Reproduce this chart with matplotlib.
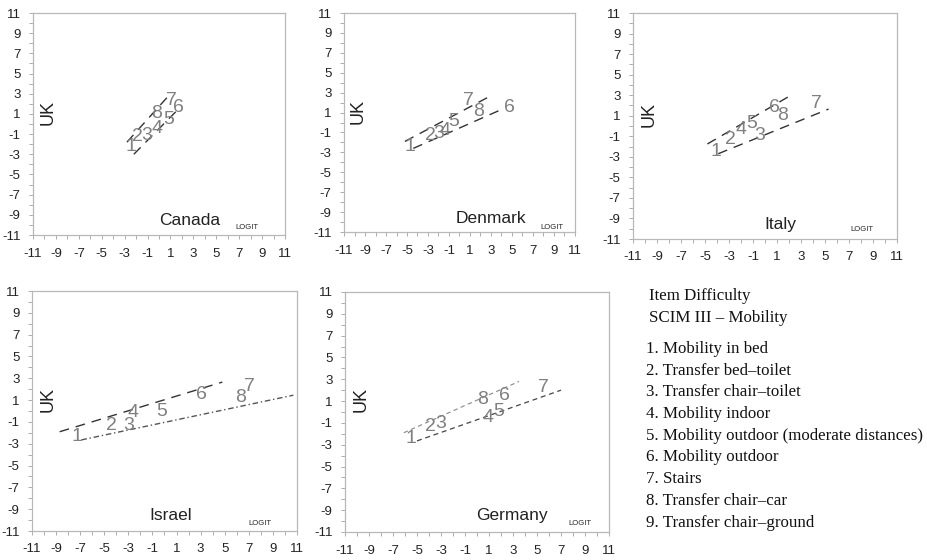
import matplotlib.pyplot as plt
import numpy as np

plt.rcParams['font.family'] = ['Liberation Sans', 'DejaVu Sans']
plt.rcParams['axes.unicode_minus'] = False

# item numbers and positions (x = country logit, y = UK logit)
canada_items = ['1', '2', '3', '4', '5', '6', '7', '8']
canada_x = [-2.46, -1.87, -1.09, -0.21, 0.81, 1.68, 1.10, -0.21]
canada_y = [-2.27, -1.28, -1.11, -0.45, 0.44, 1.63, 2.35, 1.03]
canada_upper = ([-2.8, 1.0], [-1.8, 3.0])
canada_lower = ([-2.2, 1.8], [-3.0, 1.6])

denmark_items = ['1', '2', '3', '4', '5', '7', '8', '6']
denmark_x = [-4.74, -2.76, -2.03, -1.40, -0.60, 0.83, 1.78, 4.71]
denmark_y = [-2.42, -1.35, -1.09, -0.85, 0.08, 2.25, 1.08, 1.52]
denmark_upper = ([-5.2, 3.1], [-1.9, 2.75])
denmark_lower = ([-4.4, 4.2], [-2.6, 1.4])

italy_items = ['1', '2', '4', '5', '3', '6', '8', '7']
italy_x = [-4.06, -2.89, -1.97, -1.08, -0.44, 0.78, 1.50, 4.25]
italy_y = [-2.49, -1.35, -0.31, 0.21, -0.96, 1.84, 0.99, 2.23]
italy_upper = ([-4.8, 2.1], [-1.75, 2.95])
italy_lower = ([-3.9, 5.3], [-2.7, 1.65])

israel_items = ['1', '2', '3', '4', '5', '6', '7', '8']
israel_x = [-7.30, -4.37, -2.98, -2.62, -0.25, 3.07, 7.05, 6.30]
israel_y = [-2.37, -1.33, -1.30, -0.17, -0.02, 1.51, 2.27, 1.20]
israel_upper = ([-8.7, 4.8], [-1.9, 2.65])
israel_lower = ([-6.9, 10.7], [-2.65, 1.45])

germany_items = ['1', '2', '3', '8', '6', '4', '5', '7']
germany_x = [-5.52, -3.91, -3.02, 0.49, 2.30, 0.91, 1.80, 5.50]
germany_y = [-2.44, -1.37, -1.07, 1.13, 1.53, -0.55, 0.09, 2.29]
germany_upper = ([-6.1, 3.5], [-1.9, 2.8])
germany_lower = ([-5.0, 7.0], [-2.65, 2.0])

legend_title = ['Item Difficulty', 'SCIM III \u2013 Mobility']
legend_items = ['1. Mobility in bed',
                '2. Transfer bed\u2013toilet',
                '3. Transfer chair\u2013toilet',
                '4. Mobility indoor',
                '5. Mobility outdoor (moderate distances)',
                '6. Mobility outdoor',
                '7. Stairs',
                '8. Transfer chair\u2013car',
                '9. Transfer chair\u2013ground']

W, H = 928, 560
fig = plt.figure(figsize=(W / 100, H / 100), dpi=100)


def px_axes(left, top, right, bottom):
    return fig.add_axes([left / W, 1 - bottom / H, (right - left) / W, (bottom - top) / H])


def panel(ax, name, xs, ys, items, upper, lower, name_pos, logit_pos,
          upper_style, lower_style):
    ax.set_xlim(-11, 11)
    ax.set_ylim(-11, 11)
    ax.set_xticks(np.arange(-11, 12, 2))
    ax.set_yticks(np.arange(-11, 12, 2))
    ax.set_xticks(np.arange(-11, 12, 1), minor=True)
    ax.set_yticks(np.arange(-11, 12, 1), minor=True)
    ax.tick_params(which='both', length=3, width=0.6, color='#a0a0a0',
                   labelsize=9.5, labelcolor='#222222', pad=6)
    for s in ax.spines.values():
        s.set_color('#b8b8b8')
        s.set_linewidth(0.9)
    ax.plot(upper[0], upper[1], **upper_style)
    ax.plot(lower[0], lower[1], **lower_style)
    for t, x, y in zip(items, xs, ys):
        ax.text(x, y, t, fontsize=14, color='#808080', ha='center', va='center')
    ax.text(0.06, 0.55, 'UK', transform=ax.transAxes, rotation=90,
            fontsize=13, ha='center', va='center', color='#222222')
    ax.text(name_pos[0], name_pos[1], name, transform=ax.transAxes,
            fontsize=12.5, ha='center', va='center', color='#222222')
    ax.text(logit_pos[0], logit_pos[1], 'LOGIT', transform=ax.transAxes,
            fontsize=5.5, ha='center', va='center', color='#222222')


dash_a = dict(color='#333333', lw=1.0, ls=(0, (7, 5)))
dash_b = dict(color='#555555', lw=1.0, ls=(0, (4, 2, 1, 2)))
dash_c = dict(color='#888888', lw=0.8, ls=(0, (4, 3)))
dash_d = dict(color='#444444', lw=0.9, ls=(0, (4, 3)))

ax1 = px_axes(33, 13, 285, 235)
panel(ax1, 'Canada', canada_x, canada_y, canada_items, canada_upper, canada_lower,
      (0.62, 0.065), (0.85, 0.035), dash_a, dash_a)

ax2 = px_axes(344, 13, 575, 232)
panel(ax2, 'Denmark', denmark_x, denmark_y, denmark_items, denmark_upper, denmark_lower,
      (0.636, 0.06), (0.9, 0.02), dash_a, dash_a)

ax3 = px_axes(633, 13, 897, 239)
panel(ax3, 'Italy', italy_x, italy_y, italy_items, italy_upper, italy_lower,
      (0.56, 0.066), (0.867, 0.04), dash_a, dash_a)

ax4 = px_axes(32, 291, 297, 531)
panel(ax4, 'Israel', israel_x, israel_y, israel_items, israel_upper, israel_lower,
      (0.523, 0.064), (0.86, 0.03), dash_a, dash_b)

ax5 = px_axes(345, 292, 609, 532)
panel(ax5, 'Germany', germany_x, germany_y, germany_items, germany_upper, germany_lower,
      (0.632, 0.07), (0.89, 0.035), dash_c, dash_d)

# legend block
serif = ['Liberation Serif', 'DejaVu Serif']
y = 296
for t in legend_title:
    fig.text(649 / W, 1 - y / H, t, fontsize=12.2, family=serif, va='center', color='#111111')
    y += 21.5
y = 349
for t in legend_items:
    fig.text(646 / W, 1 - y / H, t, fontsize=12.2, family=serif, va='center', color='#111111')
    y += 21.7

fig.savefig('out.png', dpi=100)
